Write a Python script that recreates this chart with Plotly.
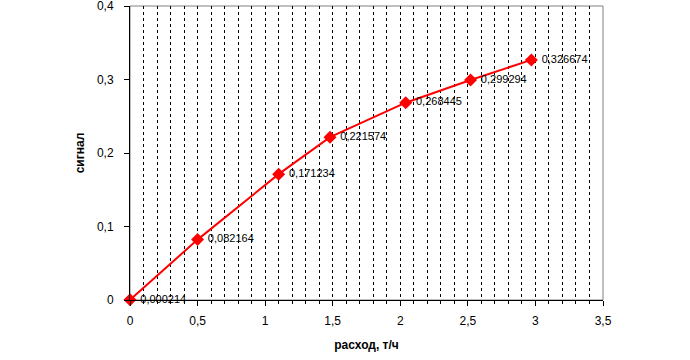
import plotly.graph_objects as go

flow = [0, 0.5, 1.1, 1.48, 2.04, 2.52, 2.97]
signal = [0.000214, 0.082164, 0.171234, 0.221574, 0.268445, 0.299294, 0.326674]
labels = ["\u00a0" + f"{v:.6f}".replace(".", ",") for v in signal]
x_ticks = [0, 0.5, 1, 1.5, 2, 2.5, 3, 3.5]
y_ticks = [0, 0.1, 0.2, 0.3, 0.4]

fig = go.Figure()
fig.add_trace(go.Scatter(
    x=flow, y=signal, mode="lines+markers+text",
    line=dict(color="#ff0000", width=2),
    marker=dict(symbol="diamond", size=10, color="#ff0000"),
    text=labels, textposition="middle right",
    textfont=dict(family="Liberation Sans, Arial", size=11, color="black"),
    cliponaxis=False, showlegend=False,
))

fig.update_layout(
    width=690, height=360,
    margin=dict(l=130, r=87, t=6, b=60),
    paper_bgcolor="white", plot_bgcolor="white",
    separators=", ",
    font=dict(family="Liberation Sans, Arial", size=12, color="black"),
    xaxis=dict(
        range=[0, 3.5], tickvals=x_ticks, automargin=False,
        showline=True, linecolor="black", linewidth=1,
        ticks="outside", ticklen=5, tickcolor="black",
        showgrid=True, gridcolor="black", gridwidth=1, griddash="3px,3px",
        zeroline=False, ticklabeloverflow="allow", ticklabelstandoff=5,
        minor=dict(dtick=0.1, tick0=0, showgrid=True, gridcolor="black",
                   griddash="3px,3px", gridwidth=1,
                   ticks="outside", ticklen=3, tickcolor="black"),
        title=dict(text="<b>расход, т/ч</b>", font=dict(size=12), standoff=13),
        tickfont=dict(size=12),
    ),
    yaxis=dict(
        range=[0, 0.4], tickvals=y_ticks, automargin=False,
        showline=True, linecolor="black", linewidth=1,
        ticks="outside", ticklen=5, tickcolor="black",
        showgrid=False, zeroline=False, ticklabeloverflow="allow",
        ticklabelstandoff=8,
        title=dict(text="<b>сигнал</b>", font=dict(size=12), standoff=9),
        tickfont=dict(size=12),
    ),
    shapes=[dict(type="rect", xref="x domain", yref="y domain",
                 x0=0, x1=1, y0=0, y1=1,
                 line=dict(color="#808080", width=1), layer="below")],
)

fig.write_html("out.html", config={"displayModeBar": False},
               post_script="document.body.style.margin='0';")
